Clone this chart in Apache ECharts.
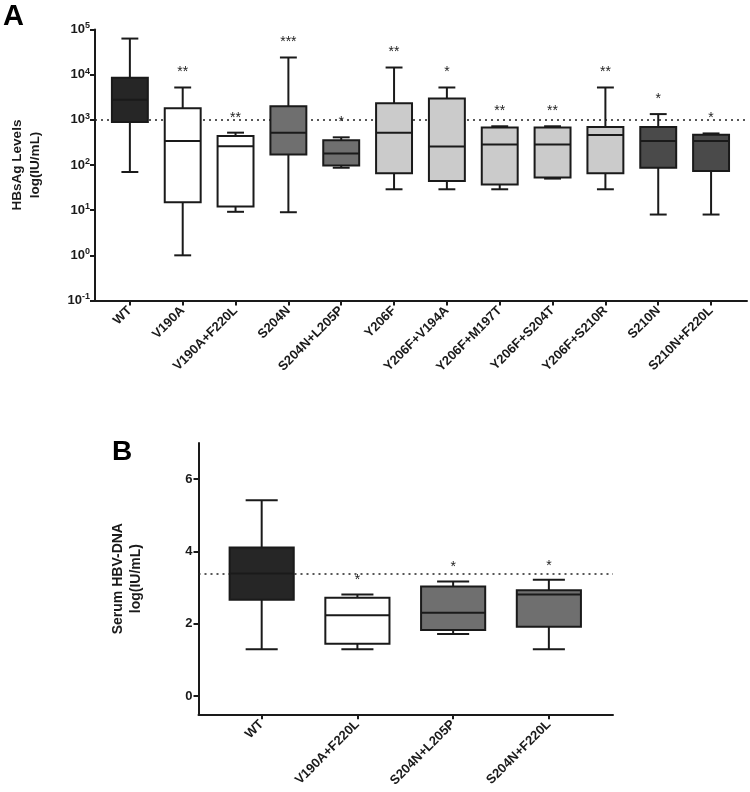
<!DOCTYPE html>
<html><head><meta charset="utf-8">
<script src="https://cdn.jsdelivr.net/npm/echarts@6/dist/echarts.min.js"></script>
<style>html,body{margin:0;padding:0;background:#fff}#c{width:750px;height:792px}</style>
</head><body><div id="c"></div>
<script>
// ---- Panel A data (HBsAg, IU/mL) ----
var catsA = ['WT','V190A','V190A+F220L','S204N','S204N+L205P','Y206F','Y206F+V194A','Y206F+M197T','Y206F+S204T','Y206F+S210R','S210N','S210N+F220L'];
var lowA  = [70, 1, 9.2, 9, 87, 29, 29, 29, 50, 29, 8, 8];
var q1A   = [890, 15, 12, 170, 97, 66, 44, 37, 53, 66, 87, 74];
var medA  = [2800, 340, 260, 520, 180, 520, 256, 285, 285, 460, 340, 340];
var q3A   = [8500, 1800, 440, 2000, 355, 2340, 2960, 680, 680, 690, 690, 465];
var highA = [63000, 5200, 520, 24000, 410, 14400, 5200, 720, 720, 5200, 1340, 500];
var starsA = ['', '**', '**', '***', '*', '**', '*', '**', '**', '**', '*', '*'];
var refA = 1000;

// ---- Panel B data (serum HBV-DNA, log IU/mL) ----
var catsB = ['WT','V190A+F220L','S204N+L205P','S204N+F220L'];
var lowB  = [1.30, 1.30, 1.72, 1.30];
var q1B   = [2.67, 1.45, 1.83, 1.92];
var medB  = [3.39, 2.24, 2.31, 2.81];
var q3B   = [4.11, 2.72, 3.03, 2.93];
var highB = [5.42, 2.81, 3.17, 3.22];
var starsB = ['', '*', '*', '*'];
var refB = 3.39;
var yTicksB = [0, 2, 4, 6];

// ---- styles ----
var fillA = ['#262626','#ffffff','#ffffff','#6f6f6f','#6f6f6f','#cbcbcb','#cbcbcb','#cbcbcb','#cbcbcb','#cbcbcb','#4a4a4a','#4a4a4a'];
var fillB = ['#262626','#ffffff','#6f6f6f','#6f6f6f'];
var INK = '#1a1a1a';
var FONT = '"Liberation Sans", Arial, Helvetica, sans-serif';

function idxList(n){ var r=[]; for(var i=0;i<n;i++) r.push(i); return r; }

function boxRender(fills, stars, boxFrac, capFrac, starGap){
  return function(params, api){
    var i = api.value(0);
    var m = api.value(3);
    var xa = api.coord([i - 0.5, m])[0];
    var xb = api.coord([i + 0.5, m])[0];
    var band = xb - xa;
    var cx = api.coord([i, m])[0];
    var yLo = api.coord([i, api.value(1)])[1];
    var yQ1 = api.coord([i, api.value(2)])[1];
    var yMd = api.coord([i, api.value(3)])[1];
    var yQ3 = api.coord([i, api.value(4)])[1];
    var yHi = api.coord([i, api.value(5)])[1];
    var hb = band * boxFrac / 2, hc = band * capFrac / 2;
    var ls = {stroke: INK, lineWidth: 2};
    return {type:'group', children:[
      {type:'line', shape:{x1:cx,y1:yHi,x2:cx,y2:yQ3}, style:ls},
      {type:'line', shape:{x1:cx,y1:yQ1,x2:cx,y2:yLo}, style:ls},
      {type:'line', shape:{x1:cx-hc,y1:yHi,x2:cx+hc,y2:yHi}, style:ls},
      {type:'line', shape:{x1:cx-hc,y1:yLo,x2:cx+hc,y2:yLo}, style:ls},
      {type:'rect', shape:{x:cx-hb,y:yQ3,width:2*hb,height:yQ1-yQ3}, style:{fill:fills[params.dataIndex], stroke:INK, lineWidth:2}},
      {type:'line', shape:{x1:cx-hb,y1:yMd,x2:cx+hb,y2:yMd}, style:ls},
      {type:'text', style:{text:stars[params.dataIndex], x:cx, y:yHi-starGap, align:'center', verticalAlign:'middle', fontSize:14, fontFamily:FONT, fill:'#222'}}
    ]};
  };
}

var dataA = catsA.map(function(c,i){ return [i, lowA[i], q1A[i], medA[i], q3A[i], highA[i]]; });
var dataB = catsB.map(function(c,i){ return [i, lowB[i], q1B[i], medB[i], q3B[i], highB[i]]; });

var axisLineStyle = {color: INK, width: 2};
var tickLabel = {fontSize: 13, fontWeight: 'bold', fontFamily: FONT, color: INK};

var chart = echarts.init(document.getElementById('c'), null, {renderer:'canvas'});
chart.setOption({
  animation: false,
  backgroundColor: '#fff',
  graphic: [
    {type:'text', left:3, top:2, style:{text:'A', fontSize:29, fontWeight:'bold', fontFamily:FONT, fill:'#000'}},
    {type:'text', left:112, top:438, style:{text:'B', fontSize:28, fontWeight:'bold', fontFamily:FONT, fill:'#000'}}
  ],
  grid: [
    {left:93, top:29.5, width:654, height:271},
    {left:198.5, top:443, width:414.5, height:271.3}
  ],
  xAxis: [
    {gridIndex:0, type:'value', min:-0.66, max:11.68, splitLine:{show:false},
     axisLine:{onZero:false, lineStyle:axisLineStyle},
     axisTick:{customValues:idxList(catsA.length), length:5, lineStyle:axisLineStyle},
     axisLabel:Object.assign({customValues:idxList(catsA.length), rotate:45, margin:8,
       formatter:function(v){ return catsA[Math.round(v)]; }}, tickLabel)},
    {gridIndex:1, type:'value', min:-0.66, max:3.67, splitLine:{show:false},
     axisLine:{onZero:false, lineStyle:axisLineStyle},
     axisTick:{customValues:idxList(catsB.length), length:5, lineStyle:axisLineStyle},
     axisLabel:Object.assign({customValues:idxList(catsB.length), rotate:45, margin:8,
       formatter:function(v){ return catsB[Math.round(v)]; }}, tickLabel)}
  ],
  yAxis: [
    {gridIndex:0, type:'log', logBase:10, min:0.1, max:100000, interval:1, splitLine:{show:false},
     axisLine:{onZero:false, lineStyle:axisLineStyle},
     axisTick:{length:5, lineStyle:axisLineStyle},
     axisLabel:{margin:5, formatter:function(v){ var e=Math.round(Math.log10(v)); return '{b|10}{s|'+e+'}'; },
       rich:{b:{fontSize:13, fontWeight:'bold', fontFamily:FONT, color:INK},
             s:{fontSize:9, fontWeight:'bold', fontFamily:FONT, color:INK, padding:[0,0,7,0]}}},
     name:'HBsAg Levels\nlog(IU/mL)', nameLocation:'middle', nameGap:51,
     nameTextStyle:{fontSize:13.5, fontWeight:'bold', fontFamily:FONT, color:INK, lineHeight:18}},
    {gridIndex:1, type:'value', min:-0.5, max:7, splitLine:{show:false},
     axisLine:{onZero:false, lineStyle:axisLineStyle},
     axisTick:{customValues:yTicksB, length:5, lineStyle:axisLineStyle},
     axisLabel:Object.assign({customValues:yTicksB, margin:6}, tickLabel),
     name:'Serum HBV-DNA\nlog(IU/mL)', nameLocation:'middle', nameGap:53,
     nameTextStyle:{fontSize:14, fontWeight:'bold', fontFamily:FONT, color:INK, lineHeight:18}}
  ],
  series: [
    {type:'custom', xAxisIndex:0, yAxisIndex:0, data:dataA, encode:{x:0, y:[1,2,3,4,5]},
     renderItem: boxRender(fillA, starsA, 0.68, 0.32, 15), z:3,
     markLine:{silent:true, symbol:'none', label:{show:false}, z:2,
       lineStyle:{type:[2,4], color:'#222', width:1.5}, data:[{yAxis:refA}]}},
    {type:'custom', xAxisIndex:1, yAxisIndex:1, data:dataB, encode:{x:0, y:[1,2,3,4,5]},
     renderItem: boxRender(fillB, starsB, 0.67, 0.335, 14), z:3,
     markLine:{silent:true, symbol:'none', label:{show:false}, z:2,
       lineStyle:{type:[2,4], color:'#222', width:1.5}, data:[{yAxis:refB}]}}
  ]
});
</script></body></html>
